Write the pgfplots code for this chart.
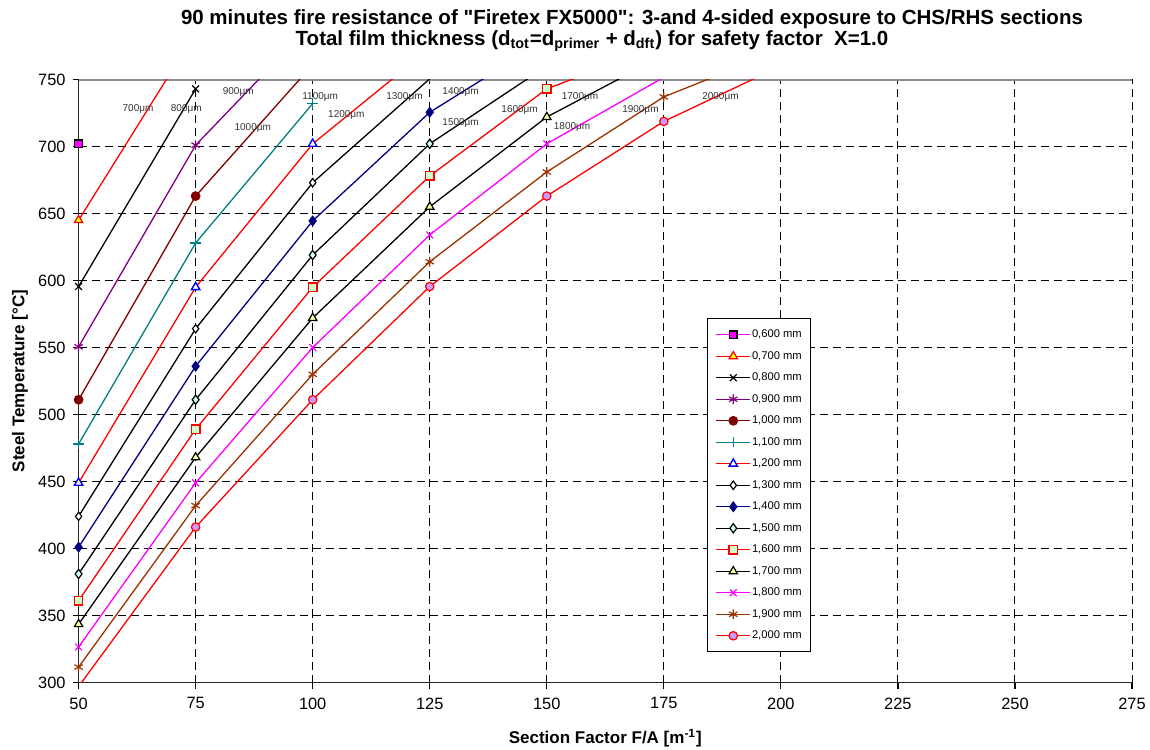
\documentclass[border=0pt]{standalone}
\usepackage{fontspec}
\setmainfont{Liberation Sans}
\usepackage{pgfplots}
\pgfplotsset{compat=1.18}
\definecolor{cMag}{HTML}{FF00FF}
\definecolor{cRed}{HTML}{FF0000}
\definecolor{cPur}{HTML}{800080}
\definecolor{cDkRed}{HTML}{800000}
\definecolor{cTeal}{HTML}{008080}
\definecolor{cBlue}{HTML}{0000FF}
\definecolor{cNavy}{HTML}{000080}
\definecolor{cLCyan}{HTML}{CCFFFF}
\definecolor{cLGreen}{HTML}{CCFFCC}
\definecolor{cLYel}{HTML}{FFFF99}
\definecolor{cYel}{HTML}{FFFF00}
\definecolor{cBrown}{HTML}{993300}
\definecolor{cLav}{HTML}{CC99FF}
\begin{document}
\begin{tikzpicture}
\useasboundingbox (-39.3pt,-33.25pt) rectangle (535.7pt,341.25pt);
\begin{axis}[
  at={(0,0)}, anchor=south west,
  scale only axis, width=526.7pt, height=301.5pt,
  xmin=50, xmax=275, ymin=300, ymax=750,
  xtick={50,75,...,275}, ytick={300,350,...,750},
  axis lines*=left,
  axis line style={black!85, line width=0.8pt},
  tick align=outside, major tick length=3pt,
  tick style={black, line width=0.6pt},
  grid=major,
  major grid style={black, line width=0.5pt, dash pattern=on 4pt off 2.5pt},
  /pgf/number format/assume math mode=true,
  ticklabel style={font=\fontsize{8.2}{9}\selectfont},
  xticklabel style={yshift=-1pt},
  xlabel={Section Factor F/A [m\textsuperscript{-1}]},
  ylabel={Steel Temperature [°C]},
  label style={font=\bfseries\fontsize{8.5}{10}\selectfont},
  xlabel style={at={(axis description cs:0.5,-0.092)}, anchor=center},
  ylabel style={at={(axis description cs:-0.0556,0.5)}, anchor=center},
  legend style={at={(rel axis cs:0.5966,0.604)}, anchor=north west,
    font=\fontsize{5.6}{6}\selectfont, draw=black, line width=0.5pt,
    inner xsep=4pt, inner ysep=5pt, row sep=4.75pt,
    nodes={inner sep=0.5pt, text height=4pt, text depth=1pt}},
  legend cell align=left,
  every axis plot/.append style={line width=0.65pt},
]
\draw[black!45, line width=1.2pt] (axis cs:50,750) -- (axis cs:275,750);
% continuation segments (no marks)
\addplot[cRed, forget plot] coordinates {(50,645)(75,785)};
\addplot[cPur, forget plot] coordinates {(75,701)(100,792)};
\addplot[cDkRed, forget plot] coordinates {(75,663)(100,761)};
\addplot[cRed, forget plot] coordinates {(100,702)(125,773)};
\addplot[black, forget plot] coordinates {(100,673)(125,750.5)};
\addplot[cNavy, forget plot] coordinates {(125,725.5)(150,780)};
\addplot[black, forget plot] coordinates {(125,702)(150,760)};
\addplot[cRed, forget plot] coordinates {(150,743)(175,776)};
\addplot[black, forget plot] coordinates {(150,722)(175,768)};
\addplot[cMag, forget plot] coordinates {(150,702)(175,751.6)};
\addplot[cBrown, forget plot] coordinates {(175,737)(200,772)};
\addplot[cRed, forget plot] coordinates {(50,297)(75,416)};
\addplot[cRed, forget plot] coordinates {(175,718.7)(200,760)};
% main series
\addplot[cMag, mark=square*, mark size=1.9pt, mark options={solid, fill=cMag, draw=black, line width=0.6pt}]
  coordinates {(50,702)};
\addlegendentry{0,600 mm}
\addplot[cRed, mark=triangle*, mark size=2.4pt, mark options={solid, fill=cYel, draw=cRed, line width=0.6pt}]
  coordinates {(50,645)};
\addlegendentry{0,700 mm}
\addplot[black, mark=x, mark size=2.4pt, mark options={solid, line width=0.6pt}]
  coordinates {(50,595.5)(75,743)};
\addlegendentry{0,800 mm}
\addplot[cPur, mark=asterisk, mark size=2.4pt, mark options={solid, line width=0.6pt}]
  coordinates {(50,550.5)(75,701)};
\addlegendentry{0,900 mm}
\addplot[cDkRed, mark=*, mark size=2.1pt, mark options={solid, fill=cDkRed, draw=cDkRed}]
  coordinates {(50,511)(75,663)};
\addlegendentry{1,000 mm}
\addplot[cTeal, mark=+, mark size=2.6pt, mark options={solid, line width=0.6pt}]
  coordinates {(50,478)(75,628)(100,732)};
\addlegendentry{1,100 mm}
\addplot[cRed, mark=triangle*, mark size=2.4pt, mark options={solid, fill=white, draw=cBlue, line width=0.7pt}]
  coordinates {(50,449)(75,595)(100,702)};
\addlegendentry{1,200 mm}
\addplot[black, mark=diamond*, mark size=2.1pt, mark options={solid, fill=white, draw=black, line width=0.6pt}]
  coordinates {(50,424)(75,564)(100,673)};
\addlegendentry{1,300 mm}
\addplot[cNavy, mark=diamond*, mark size=2.3pt, mark options={solid, fill=cNavy, draw=cNavy}]
  coordinates {(50,401)(75,536)(100,644.5)(125,725.5)};
\addlegendentry{1,400 mm}
\addplot[black, mark=diamond*, mark size=2.3pt, mark options={solid, fill=cLCyan, draw=black, line width=0.6pt}]
  coordinates {(50,381)(75,511)(100,619)(125,702)};
\addlegendentry{1,500 mm}
\addplot[cRed, mark=square*, mark size=2.1pt, mark options={solid, fill=cLGreen, draw=cRed, line width=0.7pt}]
  coordinates {(50,361)(75,489)(100,595)(125,678)(150,743)};
\addlegendentry{1,600 mm}
\addplot[black, mark=triangle*, mark size=2.4pt, mark options={solid, fill=cLYel, draw=black, line width=0.6pt}]
  coordinates {(50,343.5)(75,468)(100,572)(125,655)(150,722)};
\addlegendentry{1,700 mm}
\addplot[cMag, mark=x, mark size=2.4pt, mark options={solid, line width=0.6pt}]
  coordinates {(50,326.5)(75,449)(100,550)(125,634)(150,702)};
\addlegendentry{1,800 mm}
\addplot[cBrown, mark=asterisk, mark size=2.4pt, mark options={solid, line width=0.6pt}]
  coordinates {(50,311.5)(75,432)(100,530)(125,614)(150,681)(175,737)};
\addlegendentry{1,900 mm}
\addplot[cRed, mark=*, mark size=2.1pt, mark options={solid, fill=cLav, draw=cRed, line width=0.6pt}]
  coordinates {(75,416)(100,511)(125,595.5)(150,663)(175,718.7)};
\addlegendentry{2,000 mm}
% thickness labels
\begin{scope}[every node/.style={font=\fontsize{5}{6}\selectfont, text=black!80, inner sep=0pt}]
\node at (axis cs:62.7,727.8) {700μm};
\node at (axis cs:73.0,728) {800μm};
\node at (axis cs:84.1,740.4) {900μm};
\node at (axis cs:87.2,714) {1000μm};
\node at (axis cs:101.6,737) {1100μm};
\node at (axis cs:107.2,723.7) {1200μm};
\node at (axis cs:119.6,737) {1300μm};
\node at (axis cs:131.6,740.4) {1400μm};
\node at (axis cs:131.6,717.8) {1500μm};
\node at (axis cs:144.2,727.5) {1600μm};
\node at (axis cs:157.1,737) {1700μm};
\node at (axis cs:155.4,714.3) {1800μm};
\node at (axis cs:170.0,727.5) {1900μm};
\node at (axis cs:187.1,737) {2000μm};
\end{scope}
\end{axis}
\node[font=\bfseries\fontsize{10.25}{12}\selectfont, inner sep=0pt] at (276.7pt,331.75pt)
  {90 minutes fire resistance of \textquotedbl Firetex FX5000\textquotedbl: 3-and 4-sided exposure to CHS/RHS sections};
\node[font=\bfseries\fontsize{10.25}{12}\selectfont, inner sep=0pt] at (256.7pt,320.75pt)
  {Total film thickness (d\textsubscript{tot}=d\textsubscript{primer} + d\textsubscript{dft}) for safety factor\ \ X=1.0};
\end{tikzpicture}
\end{document}
